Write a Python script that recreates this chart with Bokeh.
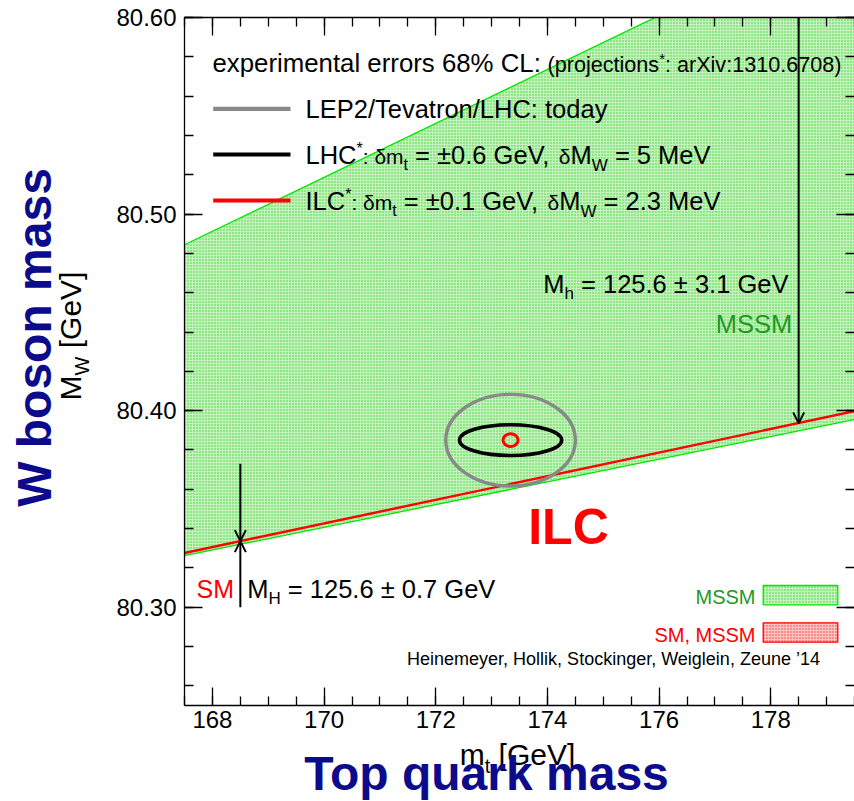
import math
from bokeh.plotting import figure
from bokeh.models import (Label, Arrow, OpenHead, LinearAxis, SingleIntervalTicker,
                          PrintfTickFormatter, CustomJSTickFormatter, Range1d, ColumnDataSource)
from bokeh.embed import file_html
from bokeh.resources import INLINE

# ------------------------------------------------------------------ data
# MSSM band (green): lower / upper edge of M_W at the two ends of the m_t range
mssm_mt = [167.5, 179.5]
mssm_mw_low = [80.3262, 80.3955]
mssm_mw_high = [80.4844, 80.649]
# SM prediction (red line), M_H = 125.6 GeV
sm_mt = [167.5, 179.5]
sm_mw = [80.3276, 80.3997]

# 68% CL error ellipses (centre, semi-axes)
ell_label = ["LEP2/Tevatron/LHC: today", "LHC", "ILC"]
ell_mt = [173.34, 173.34, 173.34]
ell_mw = [80.385, 80.385, 80.385]
ell_dmt = [1.16, 0.915, 0.135]
ell_dmw = [0.0233, 0.0078, 0.0033]
ell_color = ["#888888", "black", "#ff0000"]
ell_lw = [3.4, 3.6, 3.0]

# arrows (m_t, M_W start, M_W end)
arrow_mt = [178.5, 168.5, 168.5]
arrow_from = [80.60, 80.373, 80.300]
arrow_to = [80.3935, 80.3336, 80.3336]

x_range = (167.5, 179.5)
y_range = (80.25, 80.6000001)

FONT = "Liberation Sans"
NAVY = "#0b0b8c"
GREEN_TXT = "#229922"
W, H = 854, 801
K = 0.34   # baseline correction of the label renderer (fraction of font size)

# ------------------------------------------------------------------ main figure
p = figure(width=W, height=H, x_range=Range1d(*x_range), y_range=Range1d(*y_range),
           output_backend="svg", toolbar_location=None,
           min_border_left=184, min_border_right=0, min_border_top=17, min_border_bottom=96)
p.grid.visible = False
p.outline_line_color = None
p.background_fill_color = "white"
p.border_fill_color = "white"


def style_axis(ax, labels=True):
    ax.axis_line_width = 1.3
    ax.major_tick_in = 18
    ax.major_tick_out = 0
    ax.minor_tick_in = 9
    ax.minor_tick_out = 0
    ax.major_tick_line_width = 1.3
    ax.minor_tick_line_width = 1.3
    ax.major_tick_line_color = "black"
    ax.minor_tick_line_color = "black"
    ax.axis_line_color = "black"
    if labels:
        ax.major_label_text_font = FONT
        ax.major_label_text_font_size = "24px"
        ax.major_label_text_color = "black"
    else:
        ax.formatter = CustomJSTickFormatter(code="return ''")
        ax.major_label_text_font_size = "1px"
        ax.major_label_standoff = 0


xa = p.xaxis[0]
xa.ticker = SingleIntervalTicker(interval=2, num_minor_ticks=4)
style_axis(xa)
xa.major_label_standoff = 5
ya = p.yaxis[0]
ya.ticker = SingleIntervalTicker(interval=0.1, num_minor_ticks=5)
ya.formatter = PrintfTickFormatter(format="%.2f")
style_axis(ya)
ya.major_label_standoff = 8

top = LinearAxis(ticker=SingleIntervalTicker(interval=2, num_minor_ticks=4))
style_axis(top, labels=False)
p.add_layout(top, "above")
right = LinearAxis(ticker=SingleIntervalTicker(interval=0.1, num_minor_ticks=5))
style_axis(right, labels=False)
right.axis_line_color = None
p.add_layout(right, "right")

# bands and lines
p.varea(x=mssm_mt, y1=mssm_mw_low, y2=mssm_mw_high, fill_color="#c6f2bd",
        hatch_pattern="dot", hatch_color="#2fd62f", hatch_scale=3, hatch_weight=1.2)
p.line(mssm_mt, mssm_mw_low, line_color="#00e600", line_width=1.3)
p.line(mssm_mt, mssm_mw_high, line_color="#00e600", line_width=1.3)
p.line(sm_mt, sm_mw, line_color="#ff0000", line_width=2.4)

ell_src = ColumnDataSource(dict(x=ell_mt, y=ell_mw,
                                w=[2 * v for v in ell_dmt], h=[2 * v for v in ell_dmw],
                                c=ell_color, lw=ell_lw))
p.ellipse(x="x", y="y", width="w", height="h", source=ell_src, fill_color=None,
          line_color="c", line_width="lw")

arr_src = ColumnDataSource(dict(x=arrow_mt, y0=arrow_from, y1=arrow_to))
p.add_layout(Arrow(x_start="x", y_start="y0", x_end="x", y_end="y1", source=arr_src,
                   line_width=2, line_color="black",
                   end=OpenHead(size=11, line_width=2, line_color="black")))

# ------------------------------------------------------------------ overlay for texts/keys
# (coordinates of this transparent layer are page pixels, y downwards)
q = figure(width=W, height=H, x_range=Range1d(0, W), y_range=Range1d(H, 0),
           output_backend="svg", toolbar_location=None,
           x_axis_location=None, y_axis_location=None,
           min_border_left=0, min_border_right=0, min_border_top=0, min_border_bottom=0)
q.grid.visible = False
q.outline_line_color = None
q.background_fill_alpha = 0
q.border_fill_alpha = 0
q.styles = {"position": "absolute", "left": "0px", "top": "0px", "pointer-events": "none"}

# legend key lines
key_x0 = [212.7, 212.7, 212.7]
key_x1 = [290.0, 290.0, 290.0]
key_y = [108.3, 154.0, 200.0]
q.segment(x0=key_x0, x1=key_x1, y0=key_y, y1=key_y, line_color=ell_color, line_width=4.2)

# swatches of the bottom-right legend
q.quad(left=[762.7], right=[837.3], top=[585.0], bottom=[604.3], fill_color="#c6f2bd",
       hatch_pattern="dot", hatch_color="#2fd62f", hatch_scale=3, hatch_weight=1.2,
       line_color="#00e600", line_width=1.3)
q.quad(left=[762.7], right=[837.3], top=[622.3], bottom=[641.7], fill_color="#ffc4c4",
       hatch_pattern="dot", hatch_color="#ff3030", hatch_scale=3, hatch_weight=1.2,
       line_color="#ff0000", line_width=1.3)

AW = {' ': 278, '!': 278, '(': 333, ')': 333, '*': 389, ',': 278, '-': 333, '.': 278,
      '/': 278, ':': 278, '=': 584, '[': 278, ']': 278, '%': 889, '’': 222, '±': 549, 'δ': 556}
for d in "0123456789":
    AW[d] = 556
AW.update(dict(A=667, B=667, C=722, D=722, E=667, F=611, G=778, H=722, I=278, J=500, K=667,
               L=556, M=833, N=722, O=778, P=667, Q=778, R=722, S=667, T=611, U=722, V=667,
               W=944, X=667, Y=667, Z=611))
AW.update(dict(a=556, b=556, c=500, d=556, e=556, f=278, g=556, h=556, i=222, j=222, k=500,
               l=222, m=833, n=556, o=556, p=556, q=556, r=333, s=500, t=278, u=556, v=500,
               w=722, x=500, y=500, z=500))


def tw(s, size):
    return sum(AW.get(ch, 556) for ch in s) * size / 1000.0


def place(parts, x, y, align="left", angle=0.0):
    total = sum(tw(pt[0], pt[1]) for pt in parts)
    pos = {"left": 0.0, "center": -total / 2, "right": -total}[align]
    for pt in parts:
        t, s = pt[0], pt[1]
        dy = pt[2] if len(pt) > 2 else 0.0
        col = pt[3] if len(pt) > 3 else "black"
        stripped = t.lstrip(" ")
        lead = tw(t[:len(t) - len(stripped)], s)
        txt = stripped.rstrip(" ")
        if txt:
            off = pos + lead
            if angle == 0:
                lx, ly = x + off, y + dy - K * s
            else:
                lx, ly = x + dy - K * s, y - off
            q.add_layout(Label(x=lx, y=ly, text=txt, text_font=FONT,
                               text_font_size=f"{s}px", text_color=col,
                               text_baseline="alphabetic", text_align="left", angle=angle))
        pos += tw(t, s)


def single(text, x, y, size, color, bold=False, angle=0.0, align="center"):
    if angle == 0:
        lx, ly = x, y - K * size
    else:
        lx, ly = x - K * size, y
    q.add_layout(Label(x=lx, y=ly, text=text, text_font=FONT, text_font_size=f"{size}px",
                       text_color=color, text_font_style="bold" if bold else "normal",
                       text_baseline="alphabetic", text_align=align, angle=angle))


# header
place([("experimental errors 68% CL:", 25.8)], 212, 71.7)
place([("(projections", 21.6), ("*", 15, -9), (": arXiv:1310.6708)", 21.6)], 547, 71.7)
# legend texts
LS = 25.5
place([(ell_label[0], LS)], 305, 116.7)
place([("LHC", LS), ("*", 16, -10), (": δm", 21), ("t", 16, 6), (" = ±0.6 GeV, ", LS),
       ("δ", 21), ("M", LS), ("W", 17, 7), (" = 5 MeV", LS)], 305, 163.3)
place([("ILC", LS), ("*", 16, -10), (": δm", 21), ("t", 16, 6), (" = ±0.1 GeV, ", LS),
       ("δ", 21), ("M", LS), ("W", 17, 7), (" = 2.3 MeV", LS)], 305, 209.3)

# arrow annotations
place([("M", LS), ("h", 17, 7), (" = 125.6 ± 3.1 GeV", LS)], 542.7, 291.7)
place([("MSSM", LS, 0, GREEN_TXT)], 791.7, 331.7, align="right")
place([("SM", 25, 0, "#ff0000")], 196, 596.7)
place([("M", LS), ("H", 17, 7), (" = 125.6 ± 0.7 GeV", LS)], 246.7, 596.7)

# bottom right legend
place([("MSSM", 20, 0, GREEN_TXT)], 755, 603.3, align="right")
place([("SM, MSSM", 20, 0, "#ff0000")], 755, 641, align="right")
place([("Heinemeyer, Hollik, Stockinger, Weiglein, Zeune ’14", 18)], 821.7, 665, align="right")

# axis titles
place([("m", 30), ("t", 20, 8), (" [GeV]", 30)], 517, 764, align="center")
place([("M", 30), ("W", 20, 8), (" [GeV]", 30)], 80, 400, angle=math.pi / 2)

# big labels
single("ILC", 568, 543, 50, "#ff0000", bold=True)
single("Top quark mass", 486, 789, 48, NAVY, bold=True)
single("W boson mass", 50, 337, 48, NAVY, bold=True, angle=math.pi / 2)

open("out.html", "w").write(file_html([p, q], INLINE))
